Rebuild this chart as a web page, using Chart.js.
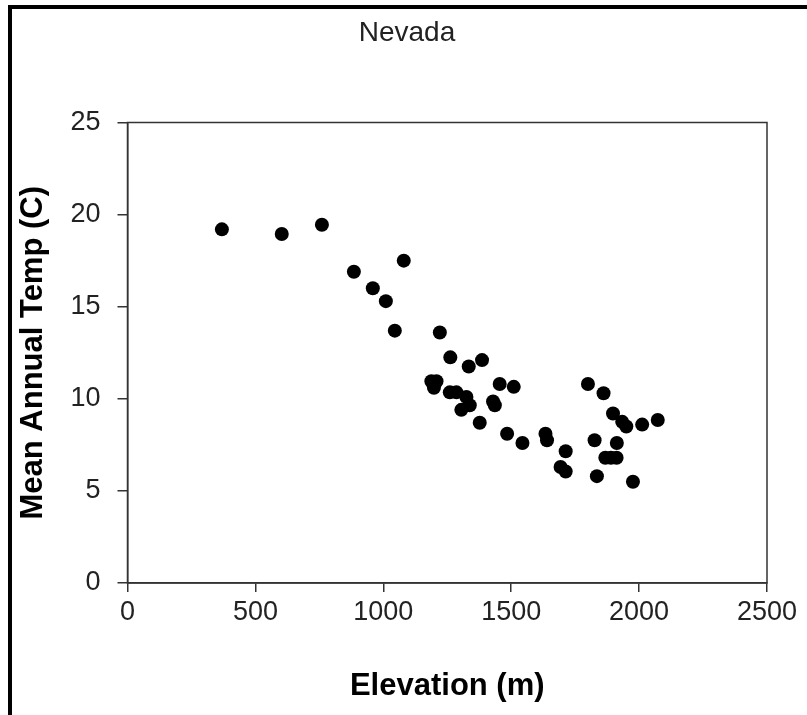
<!DOCTYPE html>
<html lang="en">
<head>
    <meta charset="UTF-8" />
    <title>Nevada</title>
    <script src="https://cdn.jsdelivr.net/npm/chart.js"></script>
    <style>
        html, body { margin: 0; padding: 0; background: #fff; overflow: hidden; }
        .frame {
            position: absolute; left: 8px; top: 5px; width: 900px; height: 900px;
            border-left: 4px solid #000; border-top: 4px solid #000;
        }
        .wrap { position: absolute; left: 0; top: 0; width: 807px; height: 715px; }
    </style>
</head>
<body>
    <div class="frame"></div>
    <div class="wrap">
        <canvas id="grafico" width="807" height="715"></canvas>
    </div>

<script>
    // elevation (m) and mean annual temperature (C)
    const elevacao = [369, 603, 760, 885, 959, 1010, 1045, 1080, 1221, 1262, 1334, 1386,
        1188, 1208, 1198, 1260, 1286, 1325, 1338, 1305, 1429, 1436, 1377, 1455, 1510,
        1484, 1544, 1634, 1640, 1713, 1693, 1713, 1800, 1861, 1898, 1934, 1950, 2012,
        2073, 1826, 1913, 1868, 1890, 1912, 1835, 1976];
    const temperatura = [19.2, 18.95, 19.45, 16.9, 16.0, 15.3, 13.7, 17.5, 13.6, 12.25, 11.75, 12.1,
        10.95, 10.95, 10.6, 10.35, 10.35, 10.1, 9.65, 9.4, 9.85, 9.65, 8.7, 10.8, 10.65,
        8.1, 7.6, 8.1, 7.75, 7.15, 6.3, 6.05, 10.8, 10.3, 9.2, 8.75, 8.5, 8.6,
        8.85, 7.75, 7.6, 6.8, 6.8, 6.8, 5.8, 5.5];
    const xTicks = [0, 500, 1000, 1500, 2000, 2500];
    const yTicks = [0, 5, 10, 15, 20, 25];

    const pontos = elevacao.map((x, i) => ({ x: x, y: temperatura[i] }));
    const fonte = "'Liberation Sans', Arial, sans-serif";

    // box around the plot area
    const moldura = {
        id: 'moldura',
        afterDraw(chart) {
            const a = chart.chartArea;
            const c = chart.ctx;
            c.save();
            c.strokeStyle = '#333';
            c.lineWidth = 1.5;
            c.strokeRect(a.left, a.top, a.right - a.left, a.bottom - a.top);
            c.restore();
        }
    };

    const ctx = document.getElementById("grafico").getContext("2d");
    new Chart(ctx, {
        type: 'scatter',
        data: {
            datasets: [{
                label: 'Nevada',
                data: pontos,
                backgroundColor: '#000',
                borderColor: '#000',
                borderWidth: 0,
                pointRadius: 7,
                pointHoverRadius: 7
            }]
        },
        options: {
            responsive: false,
            animation: false,
            layout: { padding: { left: 7, right: 0, top: 0, bottom: 0 } },
            scales: {
                x: {
                    type: 'linear',
                    min: 0,
                    max: 2500,
                    afterBuildTicks: s => { s.ticks = xTicks.map(v => ({ value: v })); },
                    afterFit: s => { s.height = 132; },
                    grid: { drawOnChartArea: false, tickLength: 9, color: '#333', lineWidth: 1.5 },
                    border: { color: '#333', width: 1.5 },
                    ticks: {
                        color: '#222', padding: 4,
                        font: { family: fonte, size: 27 },
                        callback: v => String(v)
                    },
                    title: {
                        display: true,
                        text: 'Elevation (m)',
                        color: '#000',
                        padding: { top: 0, bottom: 10 },
                        font: { family: fonte, size: 31, weight: 'bold' }
                    }
                },
                y: {
                    min: 0,
                    max: 25,
                    afterBuildTicks: s => { s.ticks = yTicks.map(v => ({ value: v })); },
                    afterFit: s => { s.width = 120.5; },
                    grid: { drawOnChartArea: false, tickLength: 10, color: '#333', lineWidth: 1.5 },
                    border: { color: '#333', width: 1.5 },
                    ticks: { color: '#222', padding: 17, font: { family: fonte, size: 27 } },
                    title: {
                        display: true,
                        text: 'Mean Annual Temp (C)',
                        color: '#000',
                        padding: { top: 8, bottom: 0 },
                        font: { family: fonte, size: 31, weight: 'bold' }
                    }
                },
                // empty axis on the right, only to reserve space
                yVazio: {
                    position: 'right',
                    min: 0,
                    max: 25,
                    afterFit: s => { s.width = 40; },
                    grid: { display: false },
                    border: { display: false },
                    ticks: { display: false }
                }
            },
            plugins: {
                legend: { display: false },
                tooltip: { enabled: false },
                title: {
                    display: true,
                    text: 'Nevada',
                    color: '#222',
                    padding: { top: 16, bottom: 72.9 },
                    font: { family: fonte, size: 28, weight: 'normal' }
                }
            }
        },
        plugins: [moldura]
    });
</script>
</body>
</html>
